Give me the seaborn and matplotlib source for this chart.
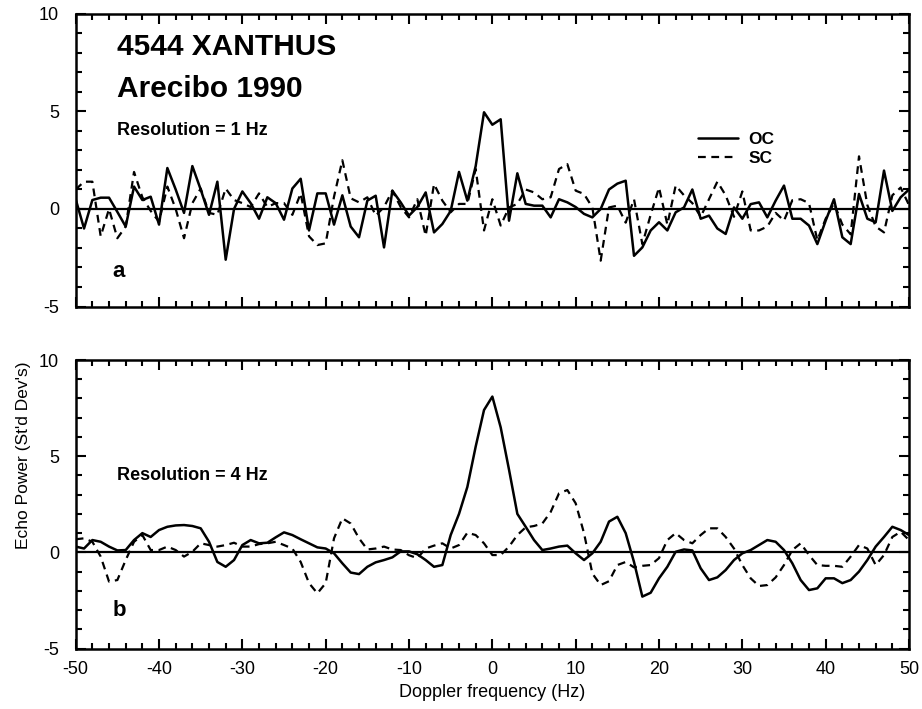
import numpy as np
import pandas as pd
import matplotlib
matplotlib.use("Agg")
import matplotlib.pyplot as plt
from matplotlib.ticker import MultipleLocator
import seaborn as sns

# Doppler frequency bins (Hz)
freq = list(range(-50, 51))

# Resolution = 1 Hz spectra (echo power in standard deviations)
oc_1hz = [
    0.5, -1.0, 0.46, 0.58, 0.58, -0.15, -0.9, 1.15, 0.46, 0.63,
    -0.8, 2.1, 1.0, -0.2, 2.2, 1.0, -0.3, 1.4, -2.6, 0.0,
    0.9, 0.3, -0.5, 0.6, 0.3, -0.55, 1.05, 1.55, -1.1, 0.8,
    0.8, -0.8, 0.7, -0.9, -1.45, 0.43, 0.68, -1.97, 0.94, 0.34,
    -0.34, 0.1, 0.85, -1.2, -0.77, -0.1, 1.9, 0.43, 2.2, 4.96,
    4.32, 4.6, -0.6, 1.83, 0.26, 0.17, 0.17, -0.43, 0.5, 0.34,
    0.1, -0.25, -0.43, 0.0, 1.0, 1.3, 1.45, -2.4, -1.97, -1.1,
    -0.68, -1.1, -0.17, 0.08, 1.0, -0.5, -0.34, -1.0, -1.28, 0.08,
    -0.5, 0.25, 0.34, -0.43, 0.43, 1.2, -0.5, -0.5, -0.85, -1.8,
    -0.6, 0.5, -1.45, -1.8, 0.77, -0.5, -0.68, 1.97, -0.1, 0.6,
    1.0,
]
sc_1hz = [
    1.0, 1.4, 1.4, -1.4, 0.0, -1.5, -0.9, 1.9, 0.6, -0.1,
    -0.65, 1.15, 0.0, -1.5, 0.3, 1.05, -0.2, -0.3, 1.05, 0.46,
    0.3, 0.1, 0.8, 0.1, 0.3, 0.3, -0.3, 0.8, -1.4, -1.85,
    -1.76, 0.63, 2.5, 0.55, 0.34, 0.6, -0.34, 0.1, 0.94, 0.1,
    -0.43, 0.5, -1.37, 1.28, 0.43, -0.17, 0.26, 0.26, 2.05, -1.1,
    0.5, -0.85, 0.08, 0.26, 1.0, 0.85, 0.5, 0.6, 2.05, 2.3,
    0.94, 0.77, 0.08, -2.65, 0.08, 0.17, -0.7, 0.5, -1.8, -0.3,
    1.1, -0.8, 1.2, 0.7, 0.3, -0.4, 0.5, 1.4, 0.7, -0.4,
    0.9, -1.1, -1.1, -0.9, -0.2, -0.6, 0.45, 0.5, 0.3, -1.6,
    -0.5, 0.3, -0.8, -1.3, 2.7, 0.2, -0.9, -1.2, 0.7, 1.1,
    0.2,
]

# Resolution = 4 Hz spectra
oc_4hz = [
    0.3, 0.2, 0.64, 0.55, 0.3, 0.1, 0.12, 0.64, 1.0, 0.8,
    1.16, 1.33, 1.4, 1.42, 1.37, 1.25, 0.55, -0.5, -0.75, -0.4,
    0.38, 0.64, 0.47, 0.5, 0.78, 1.04, 0.9, 0.68, 0.47, 0.26,
    0.2, -0.05, -0.57, -1.05, -1.13, -0.75, -0.52, -0.4, -0.26, 0.05,
    0.05, -0.1, -0.4, -0.75, -0.66, 0.9, 2.0, 3.4, 5.5, 7.4,
    8.1, 6.5, 4.3, 2.0, 1.33, 0.64, 0.12, 0.2, 0.3, 0.35,
    -0.05, -0.4, -0.05, 0.55, 1.6, 1.85, 1.0, -0.5, -2.3, -2.1,
    -1.35, -0.75, 0.03, 0.15, 0.1, -0.83, -1.44, -1.3, -0.92, -0.4,
    -0.05, 0.12, 0.38, 0.64, 0.55, 0.12, -0.57, -1.44, -1.96, -1.87,
    -1.35, -1.35, -1.6, -1.44, -1.0, -0.4, 0.3, 0.8, 1.33, 1.16,
    0.9,
]
sc_4hz = [
    0.68, 0.73, 0.55, -0.22, -1.52, -1.44, -0.4, 0.55, 0.9, 0.12,
    0.12, 0.3, 0.12, -0.22, 0.03, 0.47, 0.38, 0.3, 0.38, 0.5,
    0.3, 0.3, 0.43, 0.47, 0.55, 0.38, 0.2, -0.5, -1.6, -2.13,
    -1.6, 0.73, 1.77, 1.5, 0.73, 0.15, 0.2, 0.3, 0.15, 0.12,
    -0.15, -0.3, 0.2, 0.35, 0.47, 0.2, 0.38, 1.02, 0.9, 0.47,
    -0.14, -0.14, 0.3, 0.9, 1.3, 1.37, 1.5, 2.1, 3.07, 3.24,
    2.55, 1.0, -1.1, -1.7, -1.5, -0.66, -0.5, -0.78, -0.7, -0.66,
    -0.3, 0.64, 1.0, 0.64, 0.47, 0.9, 1.25, 1.25, 0.8, 0.2,
    -0.66, -1.35, -1.75, -1.7, -1.3, -0.66, 0.12, 0.47, -0.14, -0.66,
    -0.7, -0.7, -0.75, -0.22, 0.38, 0.2, -0.66, -0.14, 0.8, 1.07,
    0.64,
]

x_ticks = [-50, -40, -30, -20, -10, 0, 10, 20, 30, 40, 50]
y_ticks = [-5, 0, 5, 10]

sns.set_style("ticks")
plt.rcParams["font.family"] = ["Liberation Sans", "DejaVu Sans"]
plt.rcParams.update({
    "axes.linewidth": 1.8,
    "axes.unicode_minus": False,
    "text.color": "black",
    "axes.labelcolor": "black",
    "axes.edgecolor": "black",
    "xtick.color": "black",
    "ytick.color": "black",
})

fig = plt.figure(figsize=(9.22, 7.09), dpi=100)
ax_top = fig.add_axes([0.0821, 0.5677, 0.9038, 0.4126])
ax_bot = fig.add_axes([0.0821, 0.0853, 0.9038, 0.4069])

df_top = pd.DataFrame({"freq": freq, "OC": oc_1hz, "SC": sc_1hz})
df_bot = pd.DataFrame({"freq": freq, "OC": oc_4hz, "SC": sc_4hz})

for ax, df in ((ax_top, df_top), (ax_bot, df_bot)):
    ax.axhline(0, color="black", lw=1.6, zorder=1)
    sns.lineplot(data=df, x="freq", y="SC", ax=ax, color="black", lw=1.6,
                 linestyle=(0, (3.5, 2.5)), zorder=2)
    sns.lineplot(data=df, x="freq", y="OC", ax=ax, color="black", lw=1.8,
                 zorder=3)
    ax.set_xlim(-50, 50)
    ax.set_ylim(-5, 10)
    ax.set_xticks(x_ticks)
    ax.set_yticks(y_ticks)
    ax.xaxis.set_minor_locator(MultipleLocator(2))
    ax.yaxis.set_minor_locator(MultipleLocator(1))
    ax.tick_params(which="both", direction="in", top=True, right=True,
                   labelsize=13, width=1.5)
    ax.tick_params(which="major", length=7)
    ax.tick_params(which="minor", length=4)
    ax.tick_params(axis="x", pad=9)
    ax.tick_params(axis="y", pad=12)
    ax.set_xlabel("")
    ax.set_ylabel("")
    for sp in ax.spines.values():
        sp.set_visible(True)
        sp.set_linewidth(1.8)

ax_top.set_xticklabels([])
ax_bot.set_xticklabels([str(t) for t in x_ticks])
ax_bot.set_xlabel("Doppler frequency (Hz)", fontsize=13, labelpad=4)
fig.text(0.025, 0.358, "Echo Power (St'd Dev's)", rotation=90,
         ha="center", va="center", fontsize=12.5)

# Annotations, top panel
ax_top.text(-45, 8.3, "4544 XANTHUS", fontsize=21.5, fontweight="bold",
            va="center", ha="left")
ax_top.text(-45, 6.15, "Arecibo 1990", fontsize=21.5, fontweight="bold",
            va="center", ha="left")
ax_top.text(-45, 4.05, "Resolution = 1 Hz", fontsize=13,
            fontweight="bold", va="center", ha="left")
ax_top.text(-45.6, -3.2, "a", fontsize=16, fontweight="bold",
            va="center", ha="left")

# Annotations, bottom panel
ax_bot.text(-45, 4.0, "Resolution = 4 Hz", fontsize=13,
            fontweight="bold", va="center", ha="left")
ax_bot.text(-45.6, -3.0, "b", fontsize=16, fontweight="bold",
            va="center", ha="left")

# Legend for the two polarizations
handles = [
    plt.Line2D([], [], color="black", lw=1.8),
    plt.Line2D([], [], color="black", lw=1.6, linestyle=(0, (3.5, 2.5))),
]
leg = ax_top.legend(handles, ["OC", "SC"], loc="upper left",
                    bbox_to_anchor=(0.728, 0.65), frameon=False,
                    handlelength=2.3, handletextpad=0.6, labelspacing=0.2,
                    prop={"weight": "bold", "size": 12.5})

fig.savefig("out.png", dpi=100)
